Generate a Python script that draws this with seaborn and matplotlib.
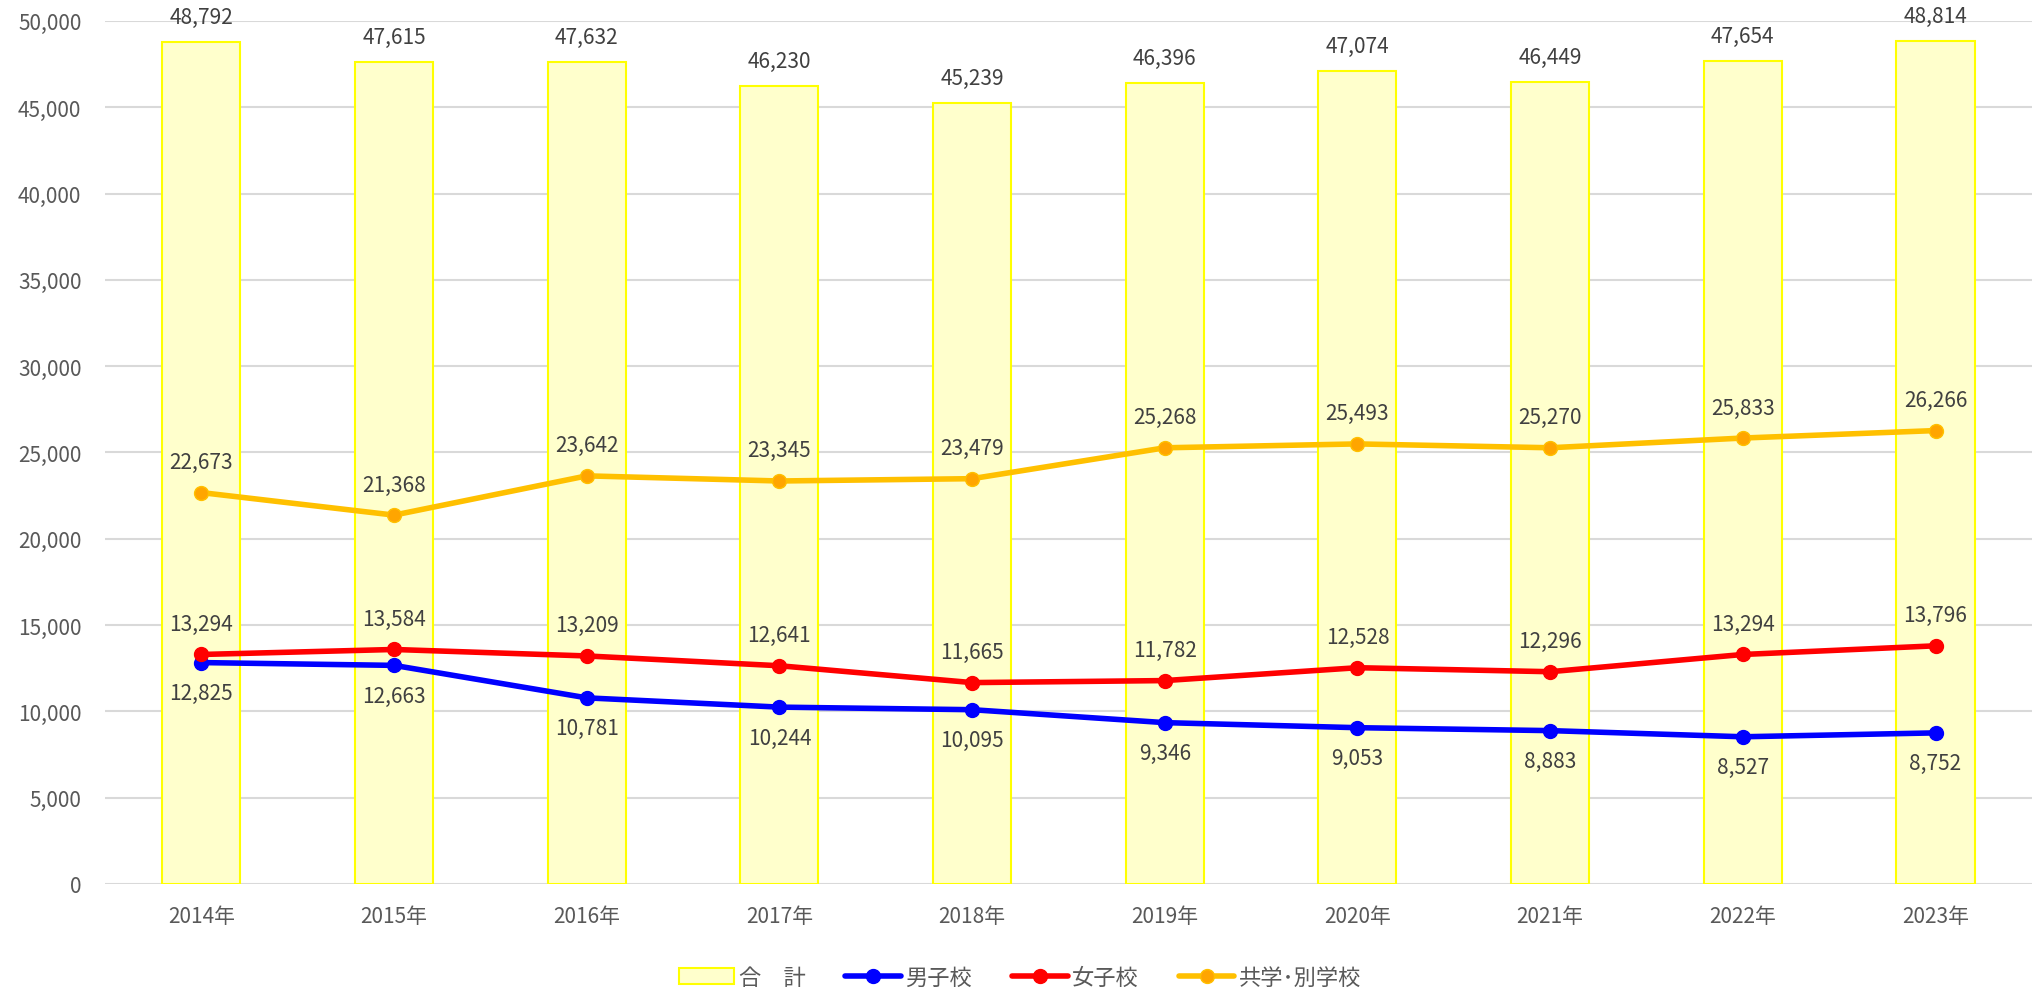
import matplotlib
matplotlib.use('Agg')
import matplotlib.pyplot as plt
import seaborn as sns
import pandas as pd
from matplotlib.patches import Patch
from matplotlib.lines import Line2D

years = ['2014年', '2015年', '2016年', '2017年', '2018年', '2019年', '2020年', '2021年', '2022年', '2023年']
total = [48792, 47615, 47632, 46230, 45239, 46396, 47074, 46449, 47654, 48814]
boys = [12825, 12663, 10781, 10244, 10095, 9346, 9053, 8883, 8527, 8752]
girls = [13294, 13584, 13209, 12641, 11665, 11782, 12528, 12296, 13294, 13796]
coed = [22673, 21368, 23642, 23345, 23479, 25268, 25493, 25270, 25833, 26266]

sns.set_style('white')
plt.rcParams['font.family'] = ['Noto Sans CJK JP', 'DejaVu Sans']

text_grey = '#595959'
label_grey = '#404040'

fig = plt.figure(figsize=(20.4, 9.95), dpi=100)
ax = fig.add_axes([0.0515, 0.1106, 0.9445, 0.8674])

df = pd.DataFrame({'year': years, 'total': total})
sns.barplot(data=df, x='year', y='total', ax=ax, color='#FFFFCC',
            edgecolor='#FFFF00', linewidth=1.5, width=0.405, saturation=1, zorder=2)

pos = list(range(len(years)))
series = [
    (boys, '#0000FF', '#0000FF', '#0000FF', -1),
    (girls, '#FF0000', '#FF0000', '#FF0000', 1),
    (coed, '#FFC000', '#FFA500', '#FFC000', 1),
]
for vals, col, mface, medge, side in series:
    sns.lineplot(x=pos, y=vals, ax=ax, color=col, linewidth=4, marker='o',
                 markersize=10, markerfacecolor=mface, markeredgecolor=medge,
                 markeredgewidth=1, zorder=4, sort=False)
    for x, v in zip(pos, vals):
        ax.annotate(f'{v:,}', (x, v), xytext=(0, 22 * side), textcoords='offset points',
                    ha='center', va='center', fontsize=15, color=label_grey, zorder=5)

for x, v in zip(pos, total):
    ax.annotate(f'{v:,}', (x, v), xytext=(0, 18), textcoords='offset points',
                ha='center', va='center', fontsize=15, color=label_grey, zorder=5)

ax.set_xlim(-0.5, len(years) - 0.5)
ax.set_ylim(0, 50000)
ax.set_yticks(range(0, 50001, 5000))
ax.set_yticklabels([f'{t:,}' for t in range(0, 50001, 5000)])
ax.yaxis.grid(True, color='#D9D9D9', linewidth=1.5, zorder=0)
ax.set_axisbelow(True)
for s in ax.spines.values():
    s.set_visible(False)
ax.tick_params(axis='y', length=0, pad=17, labelsize=15, labelcolor=text_grey)
ax.tick_params(axis='x', length=0, pad=15, labelsize=15, labelcolor=text_grey)
ax.set_xlabel('')
ax.set_ylabel('')

handles = [
    Patch(facecolor='#FFFFCC', edgecolor='#FFFF00', linewidth=1.5),
    Line2D([], [], color='#0000FF', linewidth=4, marker='o', markersize=10),
    Line2D([], [], color='#FF0000', linewidth=4, marker='o', markersize=10),
    Line2D([], [], color='#FFC000', linewidth=4, marker='o', markersize=10,
           markerfacecolor='#FFA500', markeredgecolor='#FFC000'),
]
names = ['合\u3000計', '男子校', '女子校', '共学･別学校']
leg = fig.legend(handles, names, loc='center', bbox_to_anchor=(0.5, 0.017), ncol=4,
                 frameon=False, fontsize=16, handlelength=2.5, handletextpad=0.2,
                 columnspacing=1.8)
for t in leg.get_texts():
    t.set_color(text_grey)

fig.savefig('out.png', dpi=100)
plt.close(fig)
